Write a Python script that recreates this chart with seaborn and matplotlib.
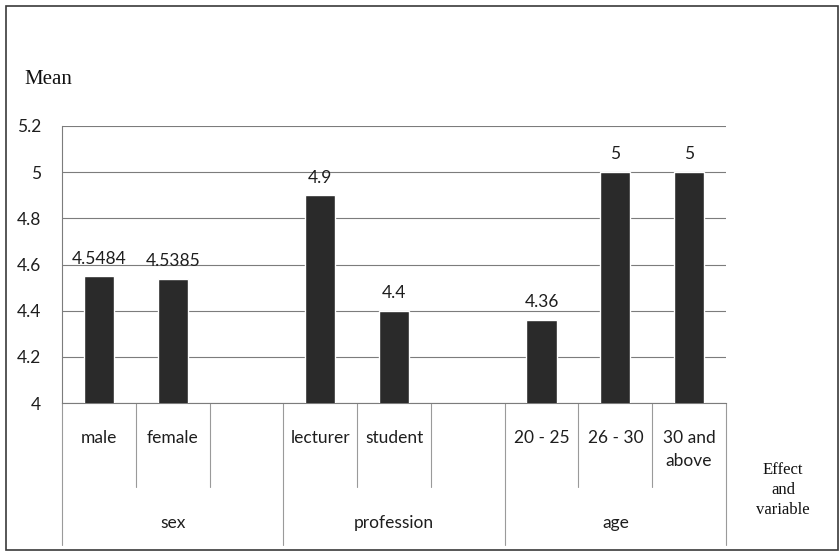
import matplotlib
matplotlib.use("Agg")
import matplotlib.pyplot as plt
import matplotlib.transforms as mtransforms
from matplotlib.patches import Rectangle
import numpy as np
import pandas as pd
import seaborn as sns

# Mean score by effect and variable
groups = ["sex", "profession", "age"]
levels = [["male", "female"], ["lecturer", "student"], ["20 - 25", "26 - 30", "30 and\nabove"]]
means = [[4.5484, 4.5385], [4.9, 4.4], [4.36, 5.0, 5.0]]

# each group occupies three slots; unused slots stay empty
slots, values, slot_labels = [], [], []
for gi, (lv, mv) in enumerate(zip(levels, means)):
    for k in range(3):
        key = f"{gi}-{k}"
        slots.append(key)
        if k < len(lv):
            values.append(mv[k])
            slot_labels.append(lv[k])
        else:
            values.append(np.nan)
            slot_labels.append("")

df = pd.DataFrame({"slot": slots, "mean": values})

sns.set_theme(style="white")
plt.rcParams["font.family"] = ["Lato", "DejaVu Sans"]

FS = 12.5
TXT = "#1e1e1e"

fig = plt.figure(figsize=(8.39, 5.52), dpi=100)
ax = fig.add_axes([62 / 839, 1 - 403 / 552, 664 / 839, 277 / 552])

sns.barplot(data=df, x="slot", y="mean", order=slots, color="#2a2a2a",
            width=0.41, saturation=1, ax=ax, zorder=3)

ax.set_ylim(4, 5.2)
ax.set_xlim(-0.5, len(slots) - 0.5)
yt = [4, 4.2, 4.4, 4.6, 4.8, 5, 5.2]
ax.set_yticks(yt)
ax.set_yticklabels([f"{v:g}" for v in yt], fontsize=FS, color=TXT)
ax.tick_params(axis="y", length=5, width=0.8, color="#7c7c7c", pad=10)
ax.set_xticks([])
ax.set_xlabel("")
ax.set_ylabel("")
ax.yaxis.grid(True, color="#7c7c7c", linewidth=0.8, zorder=0)
for side in ["top", "right"]:
    ax.spines[side].set_visible(False)
for side in ["left", "bottom"]:
    ax.spines[side].set_color("#7c7c7c")
    ax.spines[side].set_linewidth(0.8)

# value labels above the bars
for cont in ax.containers:
    ax.bar_label(cont, fmt="%g", padding=7, fontsize=FS, color=TXT)

# category axis below the plot
trans = mtransforms.blended_transform_factory(ax.transData, ax.transAxes)
short_y = (403 - 487) / 277
long_y = (403 - 545) / 277
n = len(slots)
for b in range(n + 1):
    x = b - 0.5
    bottom = long_y if b % 3 == 0 else short_y
    ax.plot([x, x], [0, bottom], transform=trans, color="#9a9a9a",
            linewidth=0.8, clip_on=False)
for i, lab in enumerate(slot_labels):
    if lab:
        ax.text(i, (403 - 430) / 277, lab, transform=trans, ha="center",
                va="top", fontsize=FS, color=TXT, linespacing=1.5)
for gi, g in enumerate(groups):
    ax.text(gi * 3 + 1, (403 - 523) / 277, g, transform=trans, ha="center",
            va="center", fontsize=FS, color=TXT)

fig.text(24 / 839, 1 - 80 / 552, "Mean", fontsize=15, family="Liberation Serif",
         ha="left", va="center", color="#111111")
fig.text(783 / 839, 1 - 490 / 552, "Effect\nand\nvariable", fontsize=12,
         family="Liberation Serif", ha="center", va="center", color="#111111",
         linespacing=1.3)

# outer frame
fig.patches.append(Rectangle((6 / 839, 1 - 550 / 552), 832 / 839, 544 / 552,
                             transform=fig.transFigure, fill=False,
                             edgecolor="#3a3a3a", linewidth=1.2))

fig.savefig("out.png", dpi=100)
